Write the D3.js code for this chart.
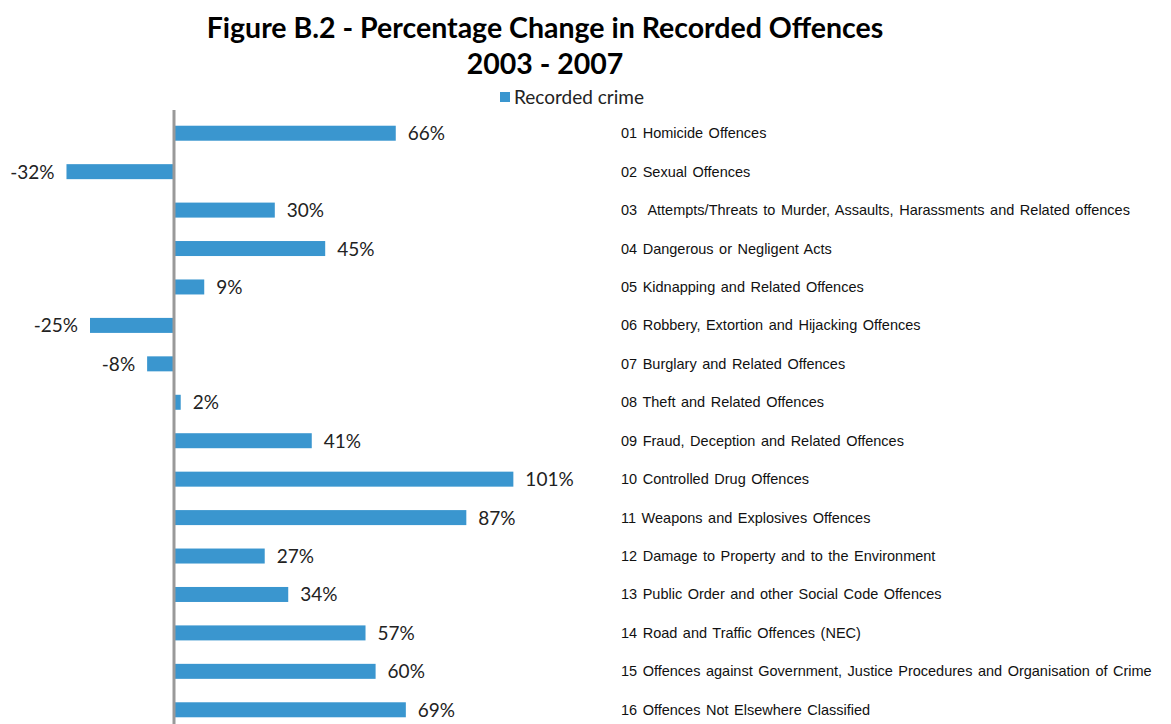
<!DOCTYPE html>
<html>
<head>
<meta charset="utf-8">
<script src="https://cdn.jsdelivr.net/npm/d3@7"></script>
<style>
  body { margin: 0; background: white; }
</style>
</head>
<body>
<div id="chart"></div>
<script>
// data
var categories = [
    "01 Homicide Offences",
    "02 Sexual Offences",
    "03  Attempts/Threats to Murder, Assaults, Harassments and Related offences",
    "04 Dangerous or Negligent Acts",
    "05 Kidnapping and Related Offences",
    "06 Robbery, Extortion and Hijacking Offences",
    "07 Burglary and Related Offences",
    "08 Theft and Related Offences",
    "09 Fraud, Deception and Related Offences",
    "10 Controlled Drug Offences",
    "11 Weapons and Explosives Offences",
    "12 Damage to Property and to the Environment",
    "13 Public Order and other Social Code Offences",
    "14 Road and Traffic Offences (NEC)",
    "15 Offences against Government, Justice Procedures and Organisation of Crime",
    "16 Offences Not Elsewhere Classified"
];
var changes = [66, -32, 30, 45, 9, -25, -8, 2, 41, 101, 87, 27, 34, 57, 60, 69];
var seriesName = "Recorded crime";
var titleLines = ["Figure B.2 - Percentage Change in Recorded Offences", "2003 - 2007"];

var width = 1171, height = 724;
var barColor = "#3A96CF";

var svg = d3.select("#chart").append("svg")
    .attr("width", width).attr("height", height);

svg.append("rect").attr("width", width).attr("height", height).attr("fill", "white");

// title
svg.selectAll("text.title")
    .data(titleLines)
    .enter().append("text")
    .attr("class", "title")
    .attr("x", 545)
    .attr("y", function(d, i) { return 38 + i * 36; })
    .attr("text-anchor", "middle")
    .attr("font-family", "Lato, 'Open Sans', sans-serif")
    .attr("font-weight", "bold")
    .attr("font-size", "28.5px")
    .attr("fill", "#000")
    .text(function(d) { return d; });

// legend
svg.append("rect")
    .attr("x", 500).attr("y", 92).attr("width", 10).attr("height", 10)
    .attr("fill", barColor);
svg.append("text")
    .attr("x", 514).attr("y", 104)
    .attr("font-family", "Lato, 'Open Sans', sans-serif")
    .attr("font-size", "19px")
    .attr("fill", "#222")
    .text(seriesName);

// scales
var x = d3.scaleLinear().domain([0, 100]).range([174, 510]);
var y = d3.scaleBand().domain(categories).range([114, 729]).paddingInner(0.6).paddingOuter(0.3);

// bars
svg.selectAll("rect.bar")
    .data(changes)
    .enter().append("rect")
    .attr("class", "bar")
    .attr("x", function(d) { return Math.min(x(0), x(d)); })
    .attr("y", function(d, i) { return y(categories[i]) + y.bandwidth() / 2 - 7.5; })
    .attr("width", function(d) { return Math.abs(x(d) - x(0)); })
    .attr("height", 15)
    .attr("fill", barColor);

// zero axis
svg.append("line")
    .attr("x1", x(0)).attr("x2", x(0))
    .attr("y1", 110).attr("y2", height)
    .attr("stroke", "#999").attr("stroke-width", 3);

// value labels
svg.selectAll("text.val")
    .data(changes)
    .enter().append("text")
    .attr("class", "val")
    .attr("x", function(d) { return d >= 0 ? x(d) + 12 : x(d) - 12; })
    .attr("y", function(d, i) { return y(categories[i]) + y.bandwidth() / 2 + 7; })
    .attr("text-anchor", function(d) { return d >= 0 ? "start" : "end"; })
    .attr("font-family", "Lato, 'Open Sans', sans-serif")
    .attr("font-size", "19px")
    .attr("fill", "#222")
    .text(function(d) { return d + "%"; });

// category labels
svg.selectAll("text.cat")
    .data(categories)
    .enter().append("text")
    .attr("class", "cat")
    .attr("x", 621)
    .attr("y", function(d) { return y(d) + y.bandwidth() / 2 + 5; })
    .attr("font-family", "'Liberation Sans', Arial, sans-serif")
    .attr("font-size", "14.5px")
    .attr("word-spacing", "1.5px")
    .attr("fill", "#111")
    .style("white-space", "pre")
    .text(function(d) { return d; });
</script>
</body>
</html>
